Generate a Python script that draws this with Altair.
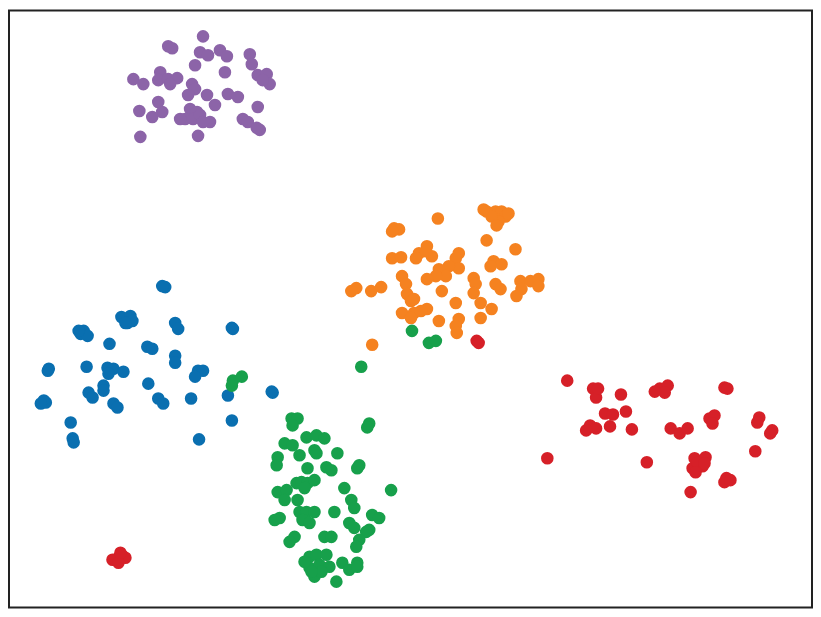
import altair as alt
import pandas as pd

# Point positions (pixel-like units, y grows downward)
blue_x = [165, 162, 121, 130, 127, 132, 125, 83, 80, 87, 78, 175, 178, 232, 233, 109, 147, 152,
          175, 175, 48, 47, 86, 107, 113, 108, 123, 103, 103, 198, 203, 195, 148, 88, 92, 43, 45,
          40, 113, 117, 158, 163, 191, 228, 273, 272, 232, 70, 72, 73, 199]
blue_y = [286, 285, 316, 315, 322, 320, 322, 330, 333, 335, 330, 322, 328, 327, 328, 343, 346,
          348, 355, 362, 368, 370, 366, 367, 368, 373, 371, 385, 390, 370, 370, 376, 383, 392,
          397, 400, 402, 403, 403, 407, 398, 403, 398, 395, 392, 391, 420, 422, 438, 442, 439]

orange_x = [497, 503, 507, 500, 488, 493, 485, 510, 498, 439, 395, 400, 393, 488, 517, 428, 420,
            417, 433, 427, 393, 402, 460, 457, 460, 495, 503, 492, 450, 440, 447, 437, 428, 403,
            407, 475, 477, 475, 497, 502, 522, 532, 540, 540, 523, 518, 357, 372, 382, 352, 443,
            408, 412, 415, 457, 482, 493, 403, 415, 428, 422, 412, 440, 460, 457, 458, 482, 373]
orange_y = [210, 210, 215, 220, 210, 215, 208, 212, 224, 217, 227, 228, 230, 239, 248, 245, 252,
            257, 255, 250, 257, 256, 252, 257, 267, 260, 263, 265, 265, 268, 275, 275, 278, 275,
            283, 277, 283, 292, 283, 288, 280, 280, 278, 285, 288, 295, 287, 290, 286, 290, 290,
            293, 300, 298, 302, 302, 308, 312, 312, 308, 310, 317, 320, 318, 325, 332, 317, 344]

green_x = [233, 242, 232, 413, 430, 437, 362, 370, 368, 292, 298, 293, 307, 317, 325, 285, 293,
           315, 317, 300, 338, 278, 277, 360, 358, 308, 327, 332, 297, 302, 308, 315, 305, 345,
           278, 287, 285, 392, 298, 352, 355, 300, 307, 315, 303, 310, 335, 280, 275, 373, 380,
           350, 355, 370, 367, 295, 290, 325, 332, 360, 357, 310, 317, 327, 310, 320, 330, 315,
           322, 343, 350, 358, 358, 337, 312, 305]
green_y = [380, 376, 385, 330, 342, 340, 366, 423, 427, 418, 418, 425, 437, 435, 438, 443, 445,
           450, 453, 455, 453, 457, 465, 465, 468, 468, 467, 470, 483, 482, 483, 480, 488, 488,
           492, 490, 500, 490, 500, 500, 508, 512, 512, 512, 520, 523, 512, 518, 520, 515, 518,
           523, 528, 530, 532, 537, 542, 537, 537, 540, 547, 557, 555, 555, 568, 565, 567, 577,
           572, 563, 570, 563, 567, 582, 572, 562]

red_x = [478, 480, 118, 115, 122, 112, 125, 118, 120, 569, 595, 598, 600, 623, 662, 670, 667,
         657, 727, 730, 607, 615, 628, 592, 598, 588, 612, 634, 673, 682, 690, 712, 717, 715,
         762, 760, 775, 773, 758, 549, 649, 697, 708, 695, 705, 700, 707, 698, 729, 727, 733,
         693]
red_y = [340, 342, 558, 560, 556, 560, 558, 563, 553, 380, 388, 397, 388, 394, 388, 385, 392,
         391, 387, 388, 413, 414, 411, 425, 428, 430, 426, 429, 428, 433, 428, 418, 415, 423,
         417, 422, 430, 433, 451, 458, 462, 458, 457, 468, 466, 462, 463, 472, 478, 482, 480,
         492]

purple_x = [203, 168, 172, 200, 208, 220, 227, 250, 252, 195, 225, 258, 267, 270, 263, 133, 143,
            160, 158, 168, 177, 170, 192, 195, 188, 207, 215, 228, 238, 158, 162, 152, 139, 190,
            197, 185, 180, 193, 200, 210, 203, 258, 243, 248, 260, 257, 140, 198]
purple_y = [34, 44, 46, 50, 53, 48, 54, 52, 62, 63, 70, 73, 72, 82, 78, 77, 82, 70, 78, 77, 76,
            82, 82, 87, 93, 93, 103, 92, 95, 100, 110, 115, 109, 107, 110, 117, 117, 117, 113,
            120, 120, 105, 117, 120, 128, 126, 135, 134]

groups = ["blue", "orange", "green", "red", "purple"]
colors = ["#0a6fb0", "#f58220", "#17a04b", "#d62028", "#8c64a8"]

rows = []
for i, (g, xs, ys) in enumerate([
    ("blue", blue_x, blue_y),
    ("orange", orange_x, orange_y),
    ("green", green_x, green_y),
    ("red", red_x, red_y),
    ("purple", purple_x, purple_y),
]):
    for x, y in zip(xs, ys):
        rows.append({"x": x, "y": y, "group": g, "order": i})
df = pd.DataFrame(rows)

chart = alt.Chart(df).mark_circle(size=160, opacity=1).encode(
    x=alt.X("x:Q", scale=alt.Scale(domain=[8, 815], nice=False, zero=False), axis=None),
    y=alt.Y("y:Q", scale=alt.Scale(domain=[8, 608], nice=False, zero=False, reverse=True), axis=None),
    color=alt.Color("group:N", scale=alt.Scale(domain=groups, range=colors), legend=None),
    order=alt.Order("order:Q"),
).properties(
    width=807, height=600, padding=1, background="white",
    autosize=alt.AutoSizeParams(type="none")
).configure_view(
    stroke="#222222", strokeWidth=2, fill="white"
)

chart.save("out.html", embed_options={"renderer": "svg", "actions": False})
